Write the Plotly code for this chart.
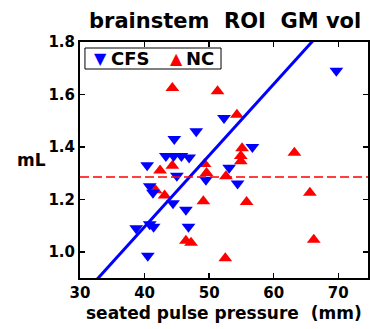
import plotly.graph_objects as go

# ---- data ----
cfs_x = [69.7, 44.6, 48.0, 52.3, 56.7, 40.4, 43.3, 44.5, 45.7, 46.9, 53.1, 45.0,
         49.5, 54.4, 40.8, 41.3, 44.4, 46.4, 46.8, 38.7, 40.8, 41.4, 40.5]
cfs_y = [1.69, 1.43, 1.46, 1.51, 1.40, 1.33, 1.365, 1.365, 1.365, 1.36, 1.32, 1.29,
         1.275, 1.26, 1.25, 1.225, 1.185, 1.16, 1.095, 1.09, 1.105, 1.095, 0.985]

nc_x = [44.3, 51.3, 54.3, 55.1, 54.9, 54.9, 63.2, 44.3, 42.4, 49.3, 49.6, 52.6,
        41.7, 43.1, 49.1, 55.8, 65.6, 46.4, 47.2, 66.2, 52.5]
nc_y = [1.625, 1.612, 1.523, 1.395, 1.365, 1.345, 1.378, 1.328, 1.31, 1.335, 1.30, 1.288,
        1.235, 1.215, 1.193, 1.19, 1.225, 1.042, 1.034, 1.046, 0.975]

fit_slope = 0.02721
fit_intercept = 0.0069
nc_mean = 1.285

x_range = [30, 74.6]
y_range = [0.9, 1.8]
x_ticks = [30, 40, 50, 60, 70]
y_ticks = [1.0, 1.2, 1.4, 1.6, 1.8]
y_ticklabels = ["1.0", "1.2", "1.4", "1.6", "1.8"]

title_text = "brainstem  ROI  GM vol"
x_title = "seated pulse pressure  (mm)"
y_title = "mL"

BLUE = "rgb(0,0,255)"
RED = "rgb(255,0,0)"
FONT = "DejaVu Sans"

W, H = 370, 329
PL, PR, PT, PB = 80, 370, 42, 278   # plot area in page pixels
PW, PH = PR - PL, PB - PT


def px(sx):
    return (sx - PL) / PW


def py(sy):
    return (PB - sy) / PH


fit_x = [x_range[0], x_range[1]]
fit_y = [fit_slope * v + fit_intercept for v in fit_x]

fig = go.Figure()
fig.add_trace(go.Scatter(x=nc_x, y=nc_y, mode="markers", name="NC",
                         marker=dict(symbol="triangle-up", size=12, color=RED,
                                     line=dict(width=0))))
fig.add_trace(go.Scatter(x=cfs_x, y=cfs_y, mode="markers", name="CFS",
                         marker=dict(symbol="triangle-down", size=12, color=BLUE,
                                     line=dict(width=0))))
fig.add_trace(go.Scatter(x=fit_x, y=fit_y, mode="lines", showlegend=False,
                         line=dict(color=BLUE, width=3)))
fig.add_trace(go.Scatter(x=fit_x, y=[nc_mean, nc_mean], mode="lines", showlegend=False,
                         line=dict(color=RED, width=1.5, dash="9px,4px")))

axis_common = dict(showline=True, linecolor="black", linewidth=2, mirror="ticks",
                   ticks="inside", ticklen=5, tickwidth=1.5, tickcolor="black",
                   showgrid=False, zeroline=False,
                   tickfont=dict(family=FONT, size=15, color="black", weight="bold"))

fig.update_xaxes(range=x_range, tickvals=x_ticks, ticktext=[str(v) for v in x_ticks],
                 **axis_common)
fig.update_yaxes(range=y_range, tickvals=y_ticks, ticktext=y_ticklabels, **axis_common)

# x axis title
fig.add_annotation(x=px(225.5), y=py(313), xref="paper", yref="paper",
                   text=x_title, showarrow=False, xanchor="center", yanchor="middle",
                   font=dict(family=FONT, size=17, color="black", weight="bold"))

# manual legend (box + symbols + labels)
fig.add_shape(type="rect", xref="paper", yref="paper",
              x0=px(85), x1=px(222), y0=py(69), y1=py(48),
              line=dict(color="black", width=1), fillcolor="white", layer="above")
leg_y = py(58.5)
fig.add_annotation(x=px(101), y=leg_y, xref="paper", yref="paper",
                   text="▼", showarrow=False, xanchor="center", yanchor="middle",
                   font=dict(family=FONT, size=16, color=BLUE))
fig.add_annotation(x=px(109), y=leg_y, xref="paper", yref="paper",
                   text="CFS", showarrow=False, xanchor="left", yanchor="middle",
                   font=dict(family=FONT, size=18, color="black", weight="bold"))
fig.add_annotation(x=px(177), y=leg_y, xref="paper", yref="paper",
                   text="▲", showarrow=False, xanchor="center", yanchor="middle",
                   font=dict(family=FONT, size=16, color=RED))
fig.add_annotation(x=px(185), y=leg_y, xref="paper", yref="paper",
                   text="NC", showarrow=False, xanchor="left", yanchor="middle",
                   font=dict(family=FONT, size=18, color="black", weight="bold"))

# y axis label, horizontal
fig.add_annotation(x=px(31), y=py(160), xref="paper", yref="paper",
                   text=y_title, showarrow=False, xanchor="center", yanchor="middle",
                   font=dict(family=FONT, size=17, color="black", weight="bold"))

# title
fig.add_annotation(x=px(226.5), y=py(21), xref="paper", yref="paper",
                   text=title_text, showarrow=False, xanchor="center", yanchor="middle",
                   font=dict(family=FONT, size=21, color="black", weight="bold"))

fig.update_layout(
    width=W, height=H,
    margin=dict(l=PL, r=W - PR, t=PT, b=H - PB),
    paper_bgcolor="white", plot_bgcolor="white",
    showlegend=False,
)

fig.write_html(
    "out.html",
    config={"displayModeBar": False, "staticPlot": True},
    post_script="document.body.style.margin='0';"
                "document.documentElement.style.overflow='hidden';",
)
